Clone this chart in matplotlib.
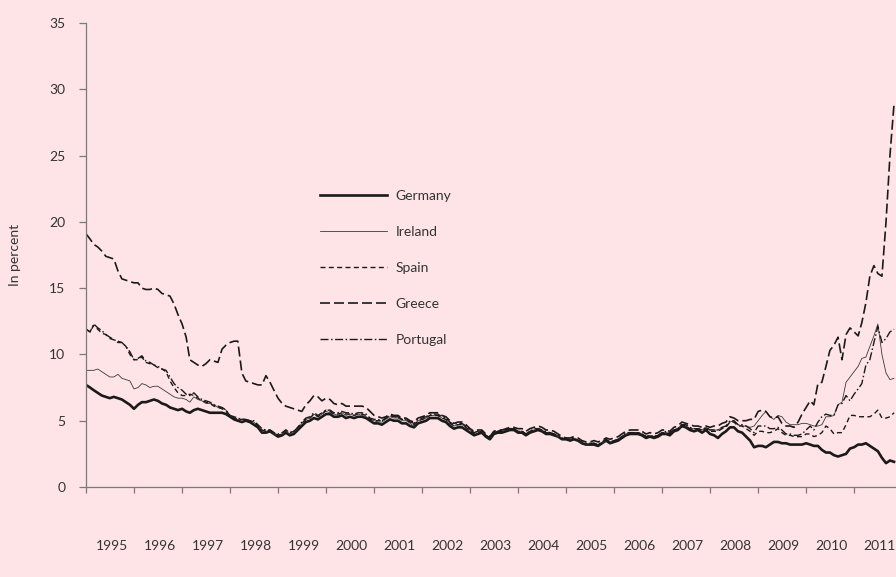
import numpy as np
import pandas as pd
import matplotlib
matplotlib.use("Agg")
import matplotlib.pyplot as plt
import matplotlib.dates as mdates

# Monthly long-term government bond yields, Jan 1995 - Nov 2011 [%]
germany = [
    7.7, 7.5, 7.3, 7.1, 6.9, 6.8, 6.7, 6.8, 6.7, 6.6, 6.4, 6.2,  # 1995
    5.9, 6.2, 6.4, 6.4, 6.5, 6.6, 6.5, 6.3, 6.2, 6.0, 5.9, 5.8,  # 1996
    5.9, 5.7, 5.6, 5.8, 5.9, 5.8, 5.7, 5.6, 5.6, 5.6, 5.6, 5.5,  # 1997
    5.3, 5.1, 5.0, 4.9, 5.0, 4.9, 4.7, 4.5, 4.1, 4.1, 4.2, 4.0,  # 1998
    3.8, 3.9, 4.1, 3.9, 4.0, 4.3, 4.6, 4.9, 5.0, 5.2, 5.1, 5.3,  # 1999
    5.5, 5.5, 5.3, 5.3, 5.4, 5.2, 5.3, 5.2, 5.3, 5.3, 5.2, 5.0,  # 2000
    4.8, 4.8, 4.7, 4.9, 5.1, 5.0, 5.0, 4.8, 4.8, 4.6, 4.5, 4.8,  # 2001
    4.9, 5.0, 5.2, 5.2, 5.2, 5.0, 4.9, 4.6, 4.4, 4.5, 4.5, 4.3,  # 2002
    4.1, 3.9, 4.0, 4.1, 3.8, 3.6, 4.0, 4.1, 4.1, 4.2, 4.3, 4.3,  # 2003
    4.1, 4.1, 3.9, 4.1, 4.2, 4.3, 4.2, 4.0, 4.0, 3.9, 3.8, 3.6,  # 2004
    3.6, 3.5, 3.6, 3.5, 3.3, 3.2, 3.2, 3.2, 3.1, 3.3, 3.5, 3.3,  # 2005
    3.4, 3.5, 3.7, 3.9, 4.0, 4.0, 4.0, 3.9, 3.7, 3.8, 3.7, 3.8,  # 2006
    4.0, 4.0, 3.9, 4.2, 4.3, 4.6, 4.5, 4.3, 4.2, 4.3, 4.1, 4.3,  # 2007
    4.0, 3.9, 3.7, 4.0, 4.2, 4.5, 4.5, 4.2, 4.1, 3.8, 3.5, 3.0,  # 2008
    3.1, 3.1, 3.0, 3.2, 3.4, 3.4, 3.3, 3.3, 3.2, 3.2, 3.2, 3.2,  # 2009
    3.3, 3.2, 3.1, 3.1, 2.8, 2.6, 2.6, 2.4, 2.3, 2.4, 2.5, 2.9,  # 2010
    3.0, 3.2, 3.2, 3.3, 3.1, 2.9, 2.7, 2.2, 1.8, 2.0, 1.9,       # 2011
]

ireland = [
    8.8, 8.8, 8.8, 8.9, 8.7, 8.5, 8.3, 8.3, 8.5, 8.2, 8.1, 8.0,
    7.4, 7.5, 7.8, 7.7, 7.5, 7.6, 7.6, 7.4, 7.2, 7.0, 6.8, 6.7,
    6.7, 6.6, 6.4, 6.8, 6.6, 6.5, 6.3, 6.3, 6.2, 6.0, 6.0, 5.8,
    5.4, 5.2, 5.1, 5.1, 5.1, 5.0, 4.9, 4.6, 4.3, 4.2, 4.3, 4.0,
    3.9, 4.0, 4.2, 4.0, 4.1, 4.4, 4.8, 5.1, 5.2, 5.5, 5.3, 5.5,
    5.7, 5.6, 5.5, 5.4, 5.6, 5.4, 5.5, 5.4, 5.5, 5.4, 5.3, 5.1,
    5.0, 4.9, 4.9, 5.1, 5.3, 5.2, 5.2, 5.0, 5.0, 4.8, 4.6, 5.0,
    5.1, 5.2, 5.4, 5.4, 5.4, 5.2, 5.1, 4.8, 4.6, 4.7, 4.7, 4.5,
    4.3, 4.1, 4.2, 4.2, 3.9, 3.7, 4.1, 4.2, 4.2, 4.3, 4.4, 4.4,
    4.2, 4.2, 4.0, 4.2, 4.3, 4.4, 4.3, 4.1, 4.1, 4.0, 3.8, 3.7,
    3.6, 3.6, 3.7, 3.5, 3.3, 3.2, 3.3, 3.3, 3.2, 3.3, 3.5, 3.4,
    3.5, 3.6, 3.8, 4.0, 4.1, 4.1, 4.1, 4.0, 3.8, 3.9, 3.8, 3.9,
    4.1, 4.1, 4.0, 4.3, 4.4, 4.7, 4.6, 4.4, 4.4, 4.4, 4.3, 4.5,
    4.3, 4.3, 4.3, 4.5, 4.6, 4.9, 5.0, 4.7, 4.6, 4.6, 4.5, 4.6,
    5.0, 5.4, 5.7, 5.3, 5.1, 5.4, 5.3, 4.9, 4.7, 4.7, 4.7, 4.8,
    4.8, 4.7, 4.6, 4.6, 4.7, 5.3, 5.3, 5.4, 6.2, 6.4, 7.9, 8.3,
    8.7, 9.1, 9.7, 9.8, 10.6, 11.4, 12.3, 10.0, 8.6, 8.1, 8.2,
]

spain = [
    11.9, 11.7, 12.2, 11.9, 11.6, 11.5, 11.2, 11.1, 10.9, 10.9, 10.6, 10.0,
    9.6, 9.6, 9.8, 9.4, 9.3, 9.2, 9.0, 8.9, 8.7, 8.0, 7.5, 7.1,
    6.9, 6.9, 7.0, 6.9, 6.7, 6.5, 6.4, 6.3, 6.1, 6.0, 5.9, 5.7,
    5.4, 5.2, 5.1, 5.1, 5.1, 5.0, 4.9, 4.6, 4.3, 4.2, 4.3, 4.1,
    3.9, 4.0, 4.3, 4.1, 4.2, 4.5, 4.8, 5.1, 5.2, 5.5, 5.3, 5.5,
    5.8, 5.7, 5.5, 5.5, 5.6, 5.5, 5.5, 5.4, 5.5, 5.5, 5.4, 5.1,
    5.0, 5.0, 5.0, 5.2, 5.4, 5.3, 5.3, 5.1, 5.1, 4.9, 4.7, 5.0,
    5.1, 5.2, 5.4, 5.4, 5.4, 5.2, 5.1, 4.8, 4.6, 4.7, 4.7, 4.5,
    4.2, 4.0, 4.1, 4.2, 3.9, 3.7, 4.1, 4.2, 4.2, 4.3, 4.4, 4.4,
    4.2, 4.2, 4.0, 4.2, 4.3, 4.4, 4.3, 4.1, 4.1, 4.0, 3.8, 3.6,
    3.6, 3.5, 3.6, 3.5, 3.3, 3.2, 3.2, 3.3, 3.2, 3.3, 3.5, 3.4,
    3.5, 3.6, 3.8, 4.0, 4.1, 4.1, 4.1, 4.0, 3.8, 3.8, 3.8, 3.9,
    4.1, 4.1, 4.0, 4.3, 4.4, 4.7, 4.6, 4.4, 4.3, 4.4, 4.3, 4.4,
    4.2, 4.2, 4.2, 4.4, 4.5, 4.9, 4.9, 4.6, 4.6, 4.4, 4.2, 3.9,
    4.2, 4.2, 4.1, 4.1, 4.2, 4.4, 4.1, 3.9, 3.9, 3.8, 3.8, 3.8,
    4.0, 4.0, 3.8, 3.9, 4.1, 4.6, 4.4, 4.0, 4.1, 4.1, 4.7, 5.4,
    5.4, 5.3, 5.3, 5.3, 5.3, 5.5, 5.8, 5.2, 5.2, 5.3, 5.6,
]

greece = [
    19.1, 18.7, 18.3, 18.1, 17.8, 17.4, 17.3, 17.2, 16.3, 15.7, 15.6, 15.5,
    15.4, 15.4, 15.0, 14.9, 14.9, 15.0, 14.9, 14.6, 14.5, 14.4, 13.8, 13.0,
    12.3, 11.3, 9.6, 9.4, 9.2, 9.1, 9.3, 9.6, 9.5, 9.4, 10.4, 10.7,
    10.9, 11.0, 11.0, 8.6, 8.0, 7.9, 7.8, 7.7, 7.7, 8.4, 7.9, 7.3,
    6.7, 6.3, 6.1, 6.0, 5.9, 5.8, 5.7, 6.2, 6.5, 6.9, 6.8, 6.5,
    6.7, 6.6, 6.3, 6.2, 6.3, 6.1, 6.1, 6.1, 6.1, 6.1, 6.0, 5.7,
    5.4, 5.3, 5.2, 5.3, 5.5, 5.4, 5.4, 5.2, 5.2, 5.0, 4.9, 5.2,
    5.3, 5.4, 5.6, 5.6, 5.6, 5.4, 5.3, 5.0, 4.8, 4.9, 4.9, 4.7,
    4.4, 4.2, 4.3, 4.3, 4.0, 3.8, 4.2, 4.3, 4.3, 4.4, 4.5, 4.5,
    4.4, 4.4, 4.2, 4.4, 4.5, 4.6, 4.5, 4.3, 4.3, 4.2, 4.0, 3.8,
    3.7, 3.7, 3.8, 3.7, 3.5, 3.4, 3.4, 3.5, 3.4, 3.5, 3.7, 3.6,
    3.7, 3.8, 4.0, 4.2, 4.3, 4.3, 4.3, 4.2, 4.0, 4.1, 4.0, 4.1,
    4.3, 4.3, 4.2, 4.5, 4.6, 4.9, 4.8, 4.7, 4.6, 4.6, 4.5, 4.6,
    4.5, 4.6, 4.6, 4.8, 4.9, 5.3, 5.2, 5.0, 5.0, 5.0, 5.1, 5.1,
    5.7, 5.8, 5.7, 5.3, 5.2, 5.3, 4.8, 4.6, 4.6, 4.5, 4.9, 5.5,
    6.0, 6.5, 6.2, 7.8, 7.9, 9.1, 10.3, 10.7, 11.3, 9.6, 11.5, 12.0,
    11.7, 11.4, 12.4, 13.9, 15.9, 16.7, 16.1, 15.9, 20.0, 25.0, 28.9,
]

portugal = [
    11.9, 11.7, 12.3, 12.0, 11.8, 11.5, 11.3, 11.1, 11.0, 10.9, 10.6, 10.2,
    9.6, 9.7, 9.9, 9.5, 9.4, 9.2, 9.1, 8.9, 8.8, 8.3, 7.8, 7.5,
    7.3, 7.0, 6.9, 7.1, 6.8, 6.6, 6.5, 6.4, 6.2, 6.1, 6.0, 5.8,
    5.4, 5.3, 5.2, 5.1, 5.1, 5.0, 5.0, 4.7, 4.4, 4.3, 4.3, 4.1,
    4.0, 4.1, 4.3, 4.1, 4.2, 4.5, 4.9, 5.2, 5.3, 5.6, 5.4, 5.6,
    5.8, 5.8, 5.6, 5.6, 5.7, 5.6, 5.6, 5.5, 5.6, 5.6, 5.5, 5.2,
    5.1, 5.1, 5.0, 5.2, 5.4, 5.3, 5.3, 5.1, 5.1, 4.9, 4.8, 5.1,
    5.2, 5.3, 5.5, 5.5, 5.5, 5.3, 5.2, 4.9, 4.7, 4.8, 4.8, 4.6,
    4.3, 4.1, 4.2, 4.2, 3.9, 3.7, 4.1, 4.2, 4.3, 4.3, 4.4, 4.4,
    4.2, 4.2, 4.0, 4.2, 4.4, 4.4, 4.3, 4.2, 4.1, 4.0, 3.9, 3.7,
    3.6, 3.6, 3.7, 3.5, 3.4, 3.3, 3.3, 3.3, 3.2, 3.4, 3.6, 3.4,
    3.5, 3.6, 3.8, 4.1, 4.1, 4.1, 4.1, 4.0, 3.8, 3.9, 3.8, 3.9,
    4.1, 4.2, 4.1, 4.3, 4.4, 4.7, 4.7, 4.5, 4.4, 4.4, 4.3, 4.5,
    4.3, 4.3, 4.3, 4.5, 4.6, 5.0, 5.0, 4.7, 4.7, 4.6, 4.4, 4.1,
    4.6, 4.6, 4.6, 4.4, 4.4, 4.5, 4.3, 4.0, 4.0, 3.9, 3.9, 4.0,
    4.3, 4.6, 4.3, 4.9, 5.3, 5.5, 5.4, 5.4, 6.2, 6.3, 6.9, 6.5,
    7.0, 7.4, 7.8, 9.2, 9.6, 10.9, 12.1, 10.9, 11.2, 11.7, 11.9,
]

year_labels = [str(y) for y in range(1995, 2012)]

BG = "#FEE4E6"
INK = "#1a1a1a"
TEXT = "#333333"

dates = pd.date_range("1995-01-01", periods=len(germany), freq="MS")

plt.rcParams["font.family"] = ["Lato", "DejaVu Sans"]

fig = plt.figure(figsize=(8.96, 5.77), dpi=100, facecolor=BG)
ax = fig.add_axes([86 / 896, 90 / 577, 810 / 896, 464 / 577])
ax.set_facecolor(BG)

ax.plot(dates, germany, color=INK, lw=1.9, label="Germany")
ax.plot(dates, ireland, color="#3a3a3a", lw=0.6, label="Ireland")
ax.plot(dates, spain, color=INK, lw=1.0, dashes=(3.6, 2.4), label="Spain")
ax.plot(dates, greece, color=INK, lw=1.2, dashes=(6, 2.4), label="Greece")
ax.plot(dates, portugal, color=INK, lw=1.0, dashes=(5.8, 1.8, 1.1, 1.8), label="Portugal")

ax.set_xlim(pd.Timestamp("1995-01-01"), pd.Timestamp("2011-11-16"))
ax.set_ylim(0, 35)
ax.set_yticks(np.arange(0, 36, 5))

# year boundaries get tick marks, labels sit mid-year
ax.xaxis.set_major_locator(mdates.YearLocator())
ax.xaxis.set_major_formatter(plt.NullFormatter())
mid_years = [pd.Timestamp(f"{y}-07-15") for y in range(1995, 2012)]
ax.set_xticks(mid_years, minor=True)
ax.set_xticklabels(year_labels, minor=True)

for side in ["top", "right"]:
    ax.spines[side].set_visible(False)
for side in ["left", "bottom"]:
    ax.spines[side].set_color("#7a7a7a")
    ax.spines[side].set_linewidth(0.9)

ax.tick_params(axis="x", which="major", length=4, color="#7a7a7a", width=0.9)
ax.tick_params(axis="x", which="minor", length=0, pad=38, labelsize=10, labelcolor=TEXT)
ax.tick_params(axis="y", length=5, color="#7a7a7a", width=0.9, pad=10, labelsize=10, labelcolor=TEXT)

ax.set_ylabel("In percent", fontsize=10, color=TEXT, labelpad=20)

leg = ax.legend(loc="upper left", bbox_to_anchor=(320 / 896, 1 - 190 / 577),
                bbox_transform=fig.transFigure, frameon=False, fontsize=10,
                handlelength=4.8, handletextpad=0.65, labelspacing=1.72,
                borderpad=0, borderaxespad=0)
for t in leg.get_texts():
    t.set_color(TEXT)

fig.savefig("out.png", dpi=100, facecolor=BG)
